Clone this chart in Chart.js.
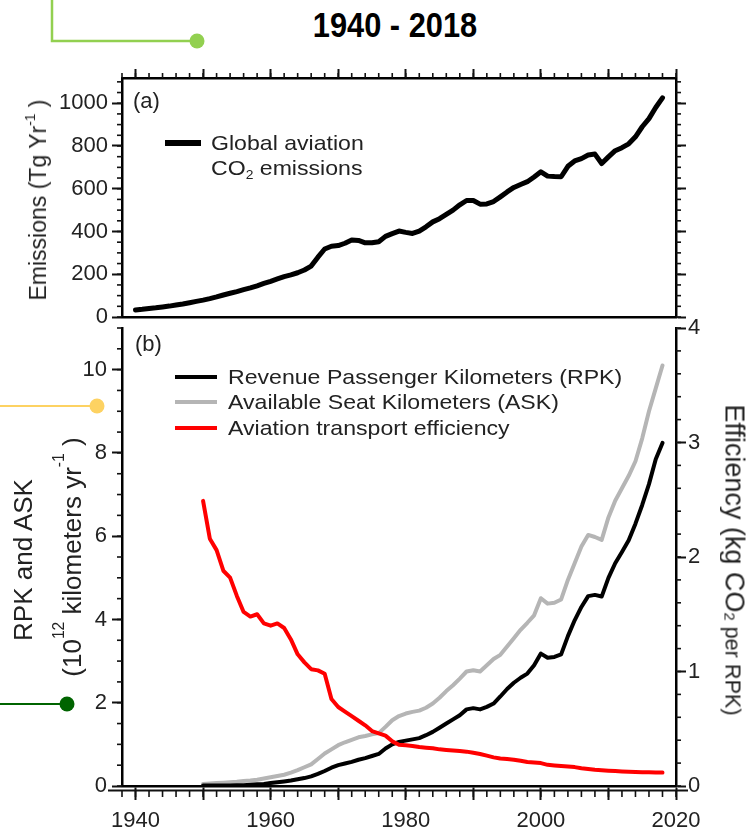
<!DOCTYPE html>
<html>
<head>
<meta charset="utf-8">
<script src="https://cdn.jsdelivr.net/npm/chart.js@4.4.1/dist/chart.umd.min.js"></script>
<style>
  html, body { margin: 0; padding: 0; background: #fff; }
  body { width: 748px; height: 837px; position: relative; overflow: hidden;
         font-family: "Liberation Sans", Arial, sans-serif; color: #222; }
  canvas { position: absolute; left: 0; }
  #chartA { top: 40px; }
  #chartB { top: 300px; }
  .t { position: absolute; line-height: 1; white-space: nowrap; }
  .rot { transform: translate(-50%, -50%) rotate(-90deg); }
  .rotR { transform: translate(-50%, -50%) rotate(90deg); }
  .leg { font-size: 21px; transform: scaleX(1.1); transform-origin: 0 0; }
  .sw { position: absolute; }
  .up { font-size: 0.6em; vertical-align: 0.8em; line-height: 1; }
  #title { left: 395px; top: 7px; transform: translateX(-50%) scaleX(0.88); font-size: 35px;
           font-weight: bold; color: #000; }
</style>
</head>
<body>
<svg width="748" height="837" style="position:absolute;left:0;top:0">
  <polyline points="52,0 52,41 197,41" fill="none" stroke="#92d050" stroke-width="2.5"/>
  <circle cx="197" cy="41" r="7.5" fill="#92d050"/>
  <line x1="0" y1="406" x2="97" y2="406" stroke="#fdd262" stroke-width="2"/>
  <circle cx="97" cy="406" r="7.5" fill="#fdd262"/>
  <line x1="0" y1="704" x2="67" y2="704" stroke="#006400" stroke-width="2"/>
  <circle cx="67" cy="704" r="7.5" fill="#006400"/>
</svg>

<div class="t" id="title">1940 - 2018</div>

<canvas id="chartA" width="748" height="300"></canvas>
<canvas id="chartB" width="748" height="537"></canvas>

<!-- axis titles -->
<div class="t rot" style="font-size:23px;left:37px;top:200px">Emissions (Tg Yr<span class="up">-1</span> )</div>
<div class="t rot" style="font-size:26px;left:23px;top:560px">RPK and ASK</div>
<div class="t rot" style="font-size:26px;left:68px;top:557px">(10<span class="up" style="vertical-align:1.1em">12</span> kilometers yr<span class="up" style="vertical-align:1.1em">-1</span> )</div>
<div class="t rotR" style="font-size:27px;left:734px;top:560px">Efficiency (kg CO<span style="font-size:0.55em;position:relative;top:0.1em">2</span><span style="font-size:0.8em"> per RPK)</span></div>

<!-- panel labels and legends -->
<div class="t" style="font-size:22px;left:133px;top:90px">(a)</div>
<div class="sw" style="left:165px;top:140px;width:36px;height:6px;background:#000"></div>
<div class="t leg" style="left:211px;top:132px">Global aviation</div>
<div class="t leg" style="left:211px;top:157px">CO<span style="font-size:0.6em;position:relative;top:0.3em">2</span> emissions</div>

<div class="t" style="font-size:22px;left:135px;top:333px">(b)</div>
<div class="sw" style="left:175px;top:375px;width:42px;height:4px;background:#000"></div>
<div class="sw" style="left:175px;top:400px;width:42px;height:4px;background:#b5b5b5"></div>
<div class="sw" style="left:175px;top:426px;width:42px;height:4px;background:#ff0000"></div>
<div class="t leg" style="left:228px;top:366px">Revenue Passenger Kilometers (RPK)</div>
<div class="t leg" style="left:228px;top:391px">Available Seat Kilometers (ASK)</div>
<div class="t leg" style="left:228px;top:417px">Aviation transport efficiency</div>

<script>
// (a) global aviation CO2 emissions, Tg per year, one value a year from 1940
const emisStart = 1940;
const emissions = [
  33, 36, 40, 43, 47, 51, 56, 61, 67, 73,
  79, 86, 94, 103, 111, 119, 128, 136, 146, 157,
  167, 178, 189, 197, 207, 220, 238, 280, 318, 331,
  334, 345, 360, 358, 347, 347, 352, 377, 390, 402,
  396, 391, 402, 422, 445, 460, 480, 500, 525, 545,
  545, 528, 529, 540, 562, 585, 606, 620, 633, 655,
  679, 659, 657, 656, 705, 730, 741, 758, 762, 718,
  749, 778, 792, 810, 843, 890, 928, 980, 1025
];

// (b) traffic (10^12 km per year) and efficiency (kg CO2 per RPK), from 1950
const trafficStart = 1950;
const rpk = [
  0.01, 0.01, 0.01, 0.015, 0.015, 0.02, 0.02, 0.03, 0.04, 0.05,
  0.07, 0.09, 0.11, 0.13, 0.16, 0.19, 0.23, 0.29, 0.36, 0.44,
  0.50, 0.54, 0.58, 0.63, 0.67, 0.72, 0.77, 0.90, 1.00, 1.06,
  1.09, 1.12, 1.15, 1.22, 1.30, 1.40, 1.50, 1.60, 1.70, 1.84,
  1.87, 1.84, 1.90, 1.98, 2.15, 2.33, 2.48, 2.60, 2.70, 2.90,
  3.18, 3.08, 3.10, 3.16, 3.60, 3.98, 4.30, 4.56, 4.59, 4.55,
  5.00, 5.35, 5.62, 5.90, 6.30, 6.75, 7.25, 7.85, 8.24
];
const ask = [
  0.05, 0.06, 0.07, 0.08, 0.09, 0.10, 0.12, 0.13, 0.15, 0.18,
  0.21, 0.24, 0.27, 0.32, 0.38, 0.45, 0.52, 0.65, 0.78, 0.88,
  0.98, 1.05, 1.11, 1.17, 1.20, 1.24, 1.27, 1.42, 1.58, 1.68,
  1.74, 1.78, 1.81, 1.88, 1.98, 2.12, 2.28, 2.42, 2.58, 2.75,
  2.78, 2.75, 2.90, 3.05, 3.15, 3.35, 3.55, 3.75, 3.92, 4.10,
  4.51, 4.38, 4.40, 4.48, 4.95, 5.35, 5.75, 6.03, 5.98, 5.91,
  6.45, 6.85, 7.15, 7.45, 7.80, 8.35, 9.00, 9.55, 10.10
];
const efficiency = [
  2.49, 2.16, 2.06, 1.88, 1.82, 1.66, 1.52, 1.48, 1.50, 1.42,
  1.40, 1.42, 1.38, 1.28, 1.15, 1.08, 1.02, 1.01, 0.98, 0.76,
  0.69, 0.65, 0.61, 0.57, 0.53, 0.48, 0.46, 0.44, 0.39, 0.36,
  0.355, 0.35, 0.34, 0.335, 0.33, 0.32, 0.315, 0.31, 0.305, 0.30,
  0.29, 0.28, 0.265, 0.25, 0.24, 0.235, 0.23, 0.22, 0.21, 0.205,
  0.20, 0.185, 0.18, 0.175, 0.17, 0.165, 0.155, 0.148, 0.142, 0.138,
  0.134, 0.130, 0.127, 0.125, 0.122, 0.120, 0.119, 0.118, 0.117
];

// ticks
const xTicks = [1940, 1950, 1960, 1970, 1980, 1990, 2000, 2010, 2020];
const xLabels = [1940, 1960, 1980, 2000, 2020];
const emisTicks = [0, 200, 400, 600, 800, 1000];
const trafficTicks = [0, 2, 4, 6, 8, 10];
const effTicks = [0, 1, 2, 3, 4];

const FONT = { family: "'Liberation Sans', Arial, sans-serif", size: 22 };
const INK = '#111';

function pairs(start, arr) {
  return arr.map((v, i) => ({ x: start + i, y: v }));
}
function fixTicks(list) {
  return s => { s.ticks = list.map(v => ({ value: v })); };
}
const plain = v => String(v);

// short tick marks between the labelled ones, plus the doubled bottom rule
const minorTicks = {
  id: 'minorTicks',
  afterDraw(chart, args, opts) {
    const { ctx, chartArea: a } = chart;
    ctx.save();
    ctx.strokeStyle = INK;
    ctx.lineWidth = 1.6;
    (opts.marks || []).forEach(m => {
      const s = chart.scales[m.axis];
      const n = Math.round((m.to - m.from) / m.step);
      const off = m.off || 0;
      for (let i = 0; i <= n; i++) {
        const p = s.getPixelForValue(m.from + i * m.step);
        ctx.beginPath();
        if (m.side === 'left') { ctx.moveTo(a.left, p); ctx.lineTo(a.left - m.len, p); }
        if (m.side === 'right') { ctx.moveTo(a.right, p); ctx.lineTo(a.right + m.len, p); }
        if (m.side === 'top') { ctx.moveTo(p, a.top); ctx.lineTo(p, a.top - m.len); }
        if (m.side === 'bottom') { ctx.moveTo(p, a.bottom + off); ctx.lineTo(p, a.bottom + off + m.len); }
        ctx.stroke();
      }
    });
    if (opts.doubleRule) {
      ctx.lineWidth = 2;
      ctx.beginPath();
      ctx.moveTo(a.left - 14, a.bottom + 4.5);
      ctx.lineTo(a.right + 12, a.bottom + 4.5);
      ctx.stroke();
    }
    ctx.restore();
  }
};

const tickGrid = { drawOnChartArea: false, tickLength: 10, tickWidth: 2, tickColor: INK };
const border = { display: true, color: '#000', width: 2.5 };

// ---- panel (a)
new Chart(document.getElementById('chartA'), {
  type: 'line',
  data: {
    datasets: [{
      data: pairs(emisStart, emissions),
      borderColor: '#000', borderWidth: 5, pointRadius: 0, tension: 0,
      borderJoinStyle: 'round', borderCapStyle: 'round'
    }]
  },
  options: {
    responsive: false, animation: false,
    layout: { padding: 0 },
    plugins: {
      legend: { display: false }, tooltip: { enabled: false },
      minorTicks: { marks: [
        { axis: 'x2', side: 'top', from: 1938, to: 2020, step: 2, len: 5 },
        { axis: 'y', side: 'left', from: 0, to: 1100, step: 50, len: 5 },
        { axis: 'y2', side: 'right', from: 0, to: 1100, step: 50, len: 5 }
      ] }
    },
    scales: {
      x: {
        type: 'linear', position: 'bottom', min: 1938, max: 2020,
        grid: { display: false }, ticks: { display: false }, border,
        afterFit: s => { s.height = 23; }
      },
      x2: {
        type: 'linear', position: 'top', min: 1938, max: 2020,
        afterBuildTicks: fixTicks(xTicks),
        grid: { ...tickGrid, tickLength: 9 }, ticks: { display: false }, border,
        afterFit: s => { s.height = 38; }
      },
      y: {
        type: 'linear', position: 'left', min: 0, max: 1118,
        afterBuildTicks: fixTicks(emisTicks),
        grid: tickGrid, border,
        ticks: { font: FONT, color: '#222', padding: 4, callback: plain },
        afterFit: s => { s.width = 122; }
      },
      y2: {
        type: 'linear', position: 'right', min: 0, max: 1118,
        afterBuildTicks: fixTicks(emisTicks),
        grid: tickGrid, border, ticks: { display: false },
        afterFit: s => { s.width = 72; }
      }
    }
  },
  plugins: [minorTicks]
});

// ---- panel (b)
new Chart(document.getElementById('chartB'), {
  type: 'line',
  data: {
    datasets: [
      { label: 'Aviation transport efficiency', data: pairs(trafficStart, efficiency), yAxisID: 'y2',
        borderColor: '#ff0000', borderWidth: 4, order: 0 },
      { label: 'Revenue Passenger Kilometers (RPK)', data: pairs(trafficStart, rpk), yAxisID: 'y',
        borderColor: '#000', borderWidth: 4, order: 1 },
      { label: 'Available Seat Kilometers (ASK)', data: pairs(trafficStart, ask), yAxisID: 'y',
        borderColor: '#b5b5b5', borderWidth: 4, order: 2 }
    ].map(d => ({ ...d, pointRadius: 0, tension: 0, borderJoinStyle: 'round', borderCapStyle: 'round' }))
  },
  options: {
    responsive: false, animation: false,
    layout: { padding: { top: 28, left: 0, right: 0, bottom: 0 } },
    plugins: {
      legend: { display: false }, tooltip: { enabled: false },
      minorTicks: {
        doubleRule: true,
        marks: [
          { axis: 'x', side: 'bottom', from: 1938, to: 2020, step: 2, len: 7, off: 4 },
          { axis: 'y', side: 'left', from: 0, to: 11, step: 0.5, len: 5 },
          { axis: 'y2', side: 'right', from: 0, to: 4, step: 0.2, len: 5 }
        ]
      }
    },
    scales: {
      x: {
        type: 'linear', position: 'bottom', min: 1938, max: 2020,
        afterBuildTicks: fixTicks(xTicks),
        grid: { ...tickGrid, tickLength: 14 }, border,
        ticks: {
          font: FONT, color: '#222', padding: 8, autoSkip: false, maxRotation: 0,
          callback: v => xLabels.includes(v) ? String(v) : ''
        },
        afterFit: s => { s.height = 51; }
      },
      y: {
        type: 'linear', position: 'left', min: 0, max: 11,
        afterBuildTicks: fixTicks(trafficTicks),
        grid: tickGrid, border,
        ticks: { font: FONT, color: '#222', padding: 5, callback: plain },
        afterFit: s => { s.width = 122; }
      },
      y2: {
        type: 'linear', position: 'right', min: 0, max: 4,
        afterBuildTicks: fixTicks(effTicks),
        grid: tickGrid, border,
        ticks: { font: FONT, color: '#222', padding: 2, callback: plain },
        afterFit: s => { s.width = 72; }
      }
    }
  },
  plugins: [minorTicks]
});
</script>
</body>
</html>
